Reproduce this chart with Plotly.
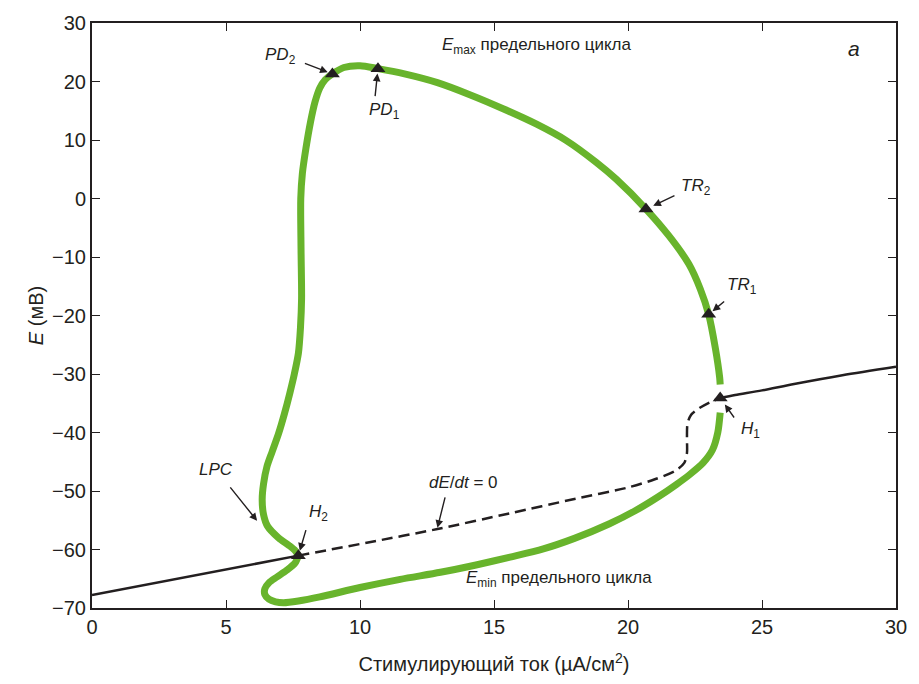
import plotly.graph_objects as go

# ---- data ----
# upper branch of the limit cycle (E max), from H1 up, over the top, down to H2
emax_x = [23.44, 23.42, 23.26, 23.01, 22.70, 22.27, 21.53, 20.67, 19.56, 18.81, 17.70,
          16.59, 15.36, 14.12, 12.89, 11.66, 10.67, 10.00, 9.40, 8.97, 8.70, 8.50, 8.32,
          8.15, 7.98, 7.85, 7.79, 7.80, 7.82, 7.78, 7.70, 7.55, 7.38, 7.18, 6.96, 6.72, 6.53,
          6.40, 6.35, 6.40, 6.55, 6.96, 7.35, 7.58, 7.70]
emax_y = [-31.8, -30.6, -25.6, -19.8, -15.5, -11.2, -6.4, -1.8, 3.3, 6.2, 9.9,
          12.7, 15.3, 17.7, 19.8, 21.3, 22.2, 22.7, 22.4, 21.3, 20.3, 18.9, 16.5,
          13.0, 8.5, 4.3, 0.0, -8.7, -17.1, -22.0, -26.5, -30.0, -33.3, -36.8, -40.2, -43.3, -45.8,
          -48.8, -51.5, -54.0, -56.0, -58.0, -59.3, -60.2, -61.05]
# lower branch of the limit cycle (E min), from H2 around to H1
emin_x = [7.70, 7.58, 7.25, 6.90, 6.60, 6.45, 6.45, 6.60, 6.85, 7.15, 7.70, 8.50,
          10.00, 11.50, 13.00, 14.37, 15.60, 16.84, 18.00, 19.31, 20.30, 21.16, 21.80,
          22.30, 22.80, 23.15, 23.35, 23.44]
emin_y = [-61.05, -62.3, -63.6, -64.7, -65.7, -66.7, -67.7, -68.5, -68.95, -69.1, -68.8, -68.1,
          -66.5, -65.1, -63.9, -62.6, -61.3, -59.9, -58.1, -55.6, -53.3, -50.9, -48.9,
          -47.2, -45.2, -43.0, -40.0, -36.6]

# steady state curve (dE/dt = 0): stable left part, unstable (dashed) middle, stable right part
ss_left_x = [0.0, 5.0, 7.70]
ss_left_y = [-67.8, -63.4, -61.05]
ss_mid_x = [7.70, 10.30, 12.89, 15.60, 18.07, 20.00, 21.00, 21.78, 22.10, 22.20, 22.20,
            22.22, 22.35, 22.64, 23.07, 23.44]
ss_mid_y = [-61.05, -58.8, -56.5, -53.8, -51.3, -49.4, -48.0, -46.5, -45.2, -43.5, -41.0,
            -38.5, -37.0, -35.9, -34.8, -34.1]
ss_right_x = [23.44, 24.00, 25.00, 26.20, 28.00, 30.00]
ss_right_y = [-34.1, -33.6, -32.8, -31.7, -30.2, -28.75]

# bifurcation points
pt_names = ["PD2", "PD1", "TR2", "TR1", "H1", "H2"]
pt_x = [8.97, 10.67, 20.67, 23.01, 23.44, 7.70]
pt_y = [21.3, 22.2, -1.8, -19.8, -34.1, -61.05]

FONT = "Liberation Sans, Arial, sans-serif"
GREEN = "rgb(104,180,44)"
INK = "#231f20"

fig = go.Figure()
for xs, ys in [(emax_x, emax_y), (emin_x, emin_y)]:
    fig.add_trace(go.Scatter(x=xs, y=ys, mode="lines",
                             line=dict(color=GREEN, width=7, shape="spline", smoothing=0.8)))
fig.add_trace(go.Scatter(x=ss_left_x, y=ss_left_y, mode="lines",
                         line=dict(color=INK, width=2.5)))
fig.add_trace(go.Scatter(x=ss_mid_x, y=ss_mid_y, mode="lines",
                         line=dict(color=INK, width=2.5, dash="11px,6px", shape="spline", smoothing=0.8)))
fig.add_trace(go.Scatter(x=ss_right_x, y=ss_right_y, mode="lines",
                         line=dict(color=INK, width=2.5, shape="spline", smoothing=0.8)))
fig.add_trace(go.Scatter(x=pt_x, y=pt_y, mode="markers",
                         marker=dict(symbol="triangle-up", size=13, color=INK)))

# arrows pointing at the marked points: (ax, ay, standoff) in pixels
arrow_off = {"PD2": (-29, -11, 5), "PD1": (-3, 29, 5), "TR2": (30, -14, 8),
             "TR1": (17, -14, 5), "H1": (15, 21, 8), "H2": (8, -27, 5)}
for name, x, y in zip(pt_names, pt_x, pt_y):
    ax, ay, so = arrow_off[name]
    fig.add_annotation(x=x, y=y, ax=ax, ay=ay, text="", showarrow=True,
                       arrowhead=2, arrowsize=1.1, arrowwidth=1.4, arrowcolor=INK, standoff=so)
# other arrows
fig.add_annotation(x=6.16, y=-55.1, ax=-28, ay=-35, text="", showarrow=True,
                   arrowhead=2, arrowsize=1.1, arrowwidth=1.4, arrowcolor=INK)
fig.add_annotation(x=12.89, y=-56.3, ax=8, ay=-32, text="", showarrow=True,
                   arrowhead=2, arrowsize=1.1, arrowwidth=1.4, arrowcolor=INK)

labels = [
    ("<i>PD</i><sub>2</sub>", 7.03, 24.4),
    ("<i>PD</i><sub>1</sub>", 10.91, 15.0),
    ("<i>TR</i><sub>2</sub>", 22.52, 1.9),
    ("<i>TR</i><sub>1</sub>", 24.25, -14.9),
    ("<i>H</i><sub>1</sub>", 24.56, -39.6),
    ("<i>H</i><sub>2</sub>", 8.44, -53.7),
    ("<i>LPC</i>", 4.62, -46.4),
    ("<i>dE</i>/<i>dt</i> = 0", 13.88, -48.5),
    ("<i>E</i><sub>max</sub> предельного цикла", 16.59, 26.1),
    ("<i>E</i><sub>min</sub> предельного цикла", 17.44, -65.0),
]
for txt, x, y in labels:
    fig.add_annotation(x=x, y=y, text=txt, showarrow=False,
                       font=dict(family=FONT, size=17, color=INK))
fig.add_annotation(x=28.44, y=25.7, text="<i>a</i>", showarrow=False,
                   font=dict(family=FONT, size=21, color=INK))

axis_common = dict(showline=True, linecolor=INK, linewidth=2, mirror="ticks",
                   ticks="inside", ticklen=8, tickwidth=1.3, tickcolor=INK,
                   showgrid=False, zeroline=False,
                   tickfont=dict(family=FONT, size=20, color=INK))
fig.update_xaxes(range=[0, 30], tickvals=[0, 5, 10, 15, 20, 25, 30],
                 title=dict(text="Стимулирующий ток (µA/см<sup>2</sup>)",
                            font=dict(family=FONT, size=20, color=INK), standoff=20),
                 **axis_common)
fig.update_yaxes(range=[-70, 30], tickvals=[-70, -60, -50, -40, -30, -20, -10, 0, 10, 20, 30],
                 ticktext=["\u221270", "\u221260", "\u221250", "\u221240", "\u221230", "\u221220",
                           "\u221210", "0", "10", "20", "30"],
                 title=dict(text="<i>E</i> (мВ)", font=dict(family=FONT, size=20, color=INK), standoff=3),
                 **axis_common)
fig.update_layout(width=919, height=684, margin=dict(l=92, r=16, t=21, b=71),
                  plot_bgcolor="white", paper_bgcolor="white", showlegend=False,
                  font=dict(family=FONT, color=INK))
fig.write_html("out.html")
